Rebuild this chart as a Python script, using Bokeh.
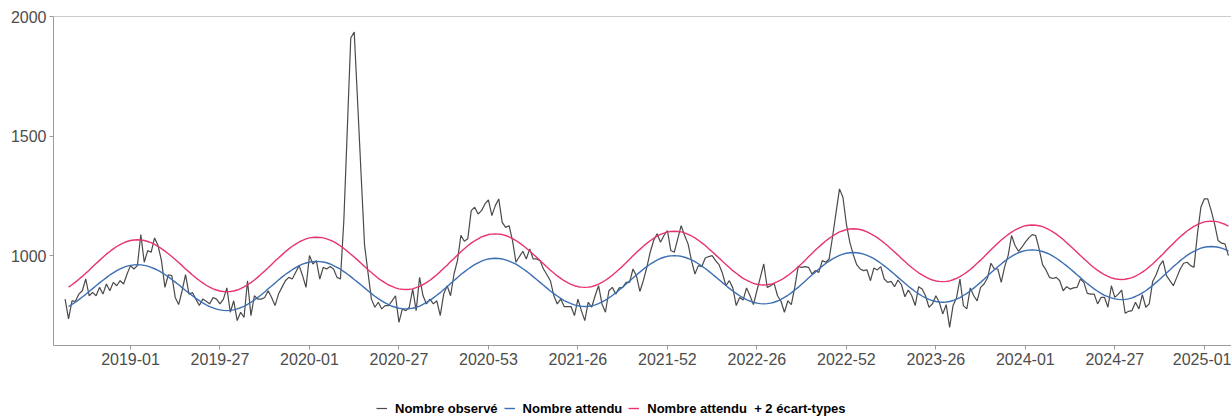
from bokeh.plotting import figure
from bokeh.layouts import column
from bokeh.models import Range1d, FixedTicker, Legend, LegendItem, Span
from bokeh.embed import file_html
from bokeh.resources import INLINE

# ---- data -------------------------------------------------------------
tick_labels = ["2019-01", "2019-27", "2020-01", "2020-27", "2020-53", "2021-26",
               "2021-52", "2022-26", "2022-52", "2023-26", "2024-01", "2024-27", "2025-01"]

series_names = ["Nombre observé", "Nombre attendu", "Nombre attendu  + 2 écart-types"]

observed_start = -19   # week index relative to 2019-01
observed = [
    818, 735, 811, 809, 839, 853, 902, 832, 846, 832, 867, 839, 881, 853, 888, 874, 895, 881, 923, 958,
    944, 958, 1088, 972, 1021, 1014, 1074, 1042, 979, 867, 920, 916, 825, 795, 853, 920, 839, 846, 818, 791,
    818, 809, 798, 825, 818, 798, 818, 865, 763, 811, 728, 763, 742, 895, 749, 832,
    818, 818, 825, 853, 825, 791, 839, 867, 895, 909, 902, 930, 958, 916, 867, 1000, 965, 979, 902, 951,
    944, 954, 944, 909, 902, 1150, 1530, 1910, 1935, 1640, 1340, 1045, 930, 818, 784, 805, 777, 791, 791, 811,
    832, 721, 777, 770, 784, 860, 770, 909, 832, 798, 818, 798, 811, 749, 839, 874,
    832, 923, 979, 1085, 1060, 1070, 1188, 1202, 1174, 1188, 1216, 1233, 1167, 1209, 1237, 1139, 1118, 1125, 1063, 972,
    996, 1018, 986, 1028, 986, 986, 979, 944, 920, 895, 832, 798, 818, 787, 787, 787, 749, 818, 770, 728,
    805, 784, 832, 874, 798, 763, 853, 867, 839, 865, 867, 888, 888, 944, 916, 850, 895,
    950, 1014, 1063, 1091, 1056, 1084, 1105, 1021, 1014, 1070, 1125, 1084, 1049, 979, 923, 958, 954, 990, 996, 1000,
    979, 962, 926, 874, 895, 865, 791, 825, 814, 865, 832, 795, 853, 909, 965, 867, 874, 884, 832, 809,
    763, 811, 795, 867, 954, 951, 954, 951, 923, 937, 930, 979, 972, 986, 1080, 1180,
    1279, 1244, 1132, 1056, 1004, 962, 944, 937, 940, 895, 948, 940, 954, 902, 888, 892, 870, 898, 878, 828,
    856, 832, 791, 870, 860, 832, 784, 798, 832, 805, 756, 795, 700, 791, 823, 902, 791, 777, 865, 832,
    811, 867, 881, 906, 968, 944, 944, 888, 954, 1000, 1084, 1042, 1018, 1035, 1056, 1074, 1088,
    1084, 1028, 962, 940, 909, 904, 909, 895, 853, 870, 860, 865, 867, 902, 888, 842, 839, 839, 798, 825,
    825, 784, 874, 825, 839, 856, 759, 767, 770, 805, 777, 837, 784, 798, 892, 920, 958, 979, 916, 895,
    874, 909, 944, 968, 972, 958, 951, 1091, 1202, 1237, 1237, 1188, 1132, 1063, 1052, 1049, 1000,
]

expected_start = -18
expected = [
    787, 796, 805, 816, 827, 838, 850, 862, 874, 886, 897, 908, 919, 928, 937, 944, 951, 956, 959, 961, 962,
    961, 959, 956, 951, 945, 938, 930, 921, 911, 900, 889, 878, 866, 854, 843, 832, 821, 812, 802, 794, 787, 781, 776, 773, 771, 770,
    771, 773, 777, 782, 788, 796, 805, 815, 825, 836, 848, 861, 873, 885, 898, 910, 921, 931, 941, 950, 958, 964, 969, 973, 975, 976,
    975, 973, 970, 965, 958, 951, 943, 933, 923, 912, 900, 889, 877, 865, 853, 841, 830, 820, 811, 802, 795, 788, 784, 780, 778, 777,
    778, 780, 784, 789, 796, 804, 813, 823, 834, 845, 858, 870, 883, 896, 908, 921, 932, 943, 953, 962, 970, 977, 982, 986, 988, 989,
    988, 986, 982, 977, 971, 964, 955, 945, 935, 924, 912, 900, 888, 876, 864, 852, 841, 831, 821, 812, 805, 799, 794, 790, 788, 787,
    788, 790, 794, 799, 806, 814, 823, 833, 844, 856, 868, 881, 894, 906, 919, 931, 943, 954, 964, 973, 981, 988, 993, 997, 999, 1000,
    999, 997, 993, 988, 982, 975, 966, 956, 946, 935, 923, 911, 899, 887, 875, 863, 852, 842, 832, 823, 816, 810, 805, 801, 799, 798,
    799, 801, 805, 810, 817, 825, 834, 844, 856, 867, 880, 893, 906, 919, 931, 944, 956, 967, 977, 986, 994, 1001, 1006, 1010, 1012, 1013,
    1012, 1010, 1006, 1001, 995, 987, 978, 968, 957, 946, 934, 922, 909, 897, 884, 872, 861, 850, 840, 831, 823, 817, 812, 808, 806, 805,
    806, 808, 812, 818, 824, 833, 842, 852, 864, 876, 888, 901, 915, 928, 941, 953, 965, 977, 987, 997, 1005, 1012, 1017, 1021, 1023, 1024,
    1023, 1021, 1017, 1012, 1006, 998, 989, 979, 968, 957, 945, 933, 920, 908, 895, 883, 872, 861, 851, 842, 834, 828, 823, 819, 817, 816,
    817, 819, 823, 829, 836, 844, 853, 864, 875, 888, 900, 914, 927, 940, 954, 966, 979, 990, 1001, 1010, 1018, 1025, 1031, 1035, 1037, 1038,
    1037, 1035, 1031, 1026, 1019,
]

threshold = [
    868, 878, 889, 901, 913, 926, 939, 953, 967, 980, 993, 1006, 1017, 1028, 1038, 1046, 1053, 1059, 1063, 1065, 1066,
    1065, 1063, 1059, 1054, 1047, 1039, 1029, 1019, 1008, 996, 984, 971, 958, 944, 932, 919, 907, 896, 886, 876, 868, 861, 856, 852, 850, 849,
    850, 852, 856, 862, 869, 878, 887, 898, 910, 923, 936, 949, 963, 977, 990, 1003, 1016, 1028, 1039, 1048, 1057, 1064, 1070, 1074, 1076, 1077,
    1076, 1074, 1070, 1065, 1058, 1050, 1040, 1030, 1018, 1006, 994, 981, 968, 954, 941, 929, 917, 905, 895, 886, 877, 871, 865, 861, 859, 858,
    859, 861, 866, 871, 879, 887, 897, 908, 920, 933, 947, 960, 975, 988, 1002, 1016, 1029, 1041, 1052, 1062, 1070, 1078, 1083, 1088, 1090, 1091,
    1090, 1088, 1084, 1078, 1071, 1063, 1053, 1043, 1031, 1019, 1006, 993, 979, 966, 952, 939, 927, 915, 905, 895, 887, 880, 874, 870, 868, 867,
    868, 870, 875, 881, 888, 897, 907, 918, 930, 943, 956, 970, 985, 999, 1013, 1026, 1039, 1051, 1062, 1072, 1081, 1089, 1094, 1099, 1101, 1102,
    1101, 1099, 1095, 1089, 1082, 1074, 1064, 1053, 1042, 1029, 1016, 1003, 990, 976, 963, 950, 937, 926, 915, 905, 897, 890, 884, 880, 878, 877,
    878, 880, 885, 891, 898, 907, 917, 928, 940, 953, 966, 980, 995, 1009, 1023, 1036, 1049, 1061, 1072, 1082, 1091, 1099, 1104, 1109, 1111, 1112,
    1111, 1109, 1105, 1099, 1092, 1084, 1075, 1064, 1053, 1041, 1028, 1015, 1002, 988, 975, 962, 950, 939, 928, 919, 911, 904, 898, 894, 892, 891,
    892, 894, 899, 905, 912, 921, 931, 942, 954, 968, 981, 995, 1010, 1024, 1038, 1052, 1065, 1077, 1088, 1098, 1107, 1114, 1120, 1125, 1127, 1128,
    1127, 1125, 1121, 1115, 1108, 1099, 1090, 1079, 1067, 1054, 1041, 1028, 1014, 1000, 987, 974, 961, 949, 938, 929, 920, 913, 907, 903, 901, 900,
    901, 904, 908, 914, 922, 931, 941, 953, 965, 979, 993, 1007, 1022, 1037, 1051, 1065, 1079, 1091, 1103, 1113, 1122, 1130, 1136, 1141, 1143, 1144,
    1143, 1141, 1136, 1131, 1123,
]

obs_x = list(range(observed_start, observed_start + len(observed)))
exp_x = list(range(expected_start, expected_start + len(expected)))
thr_x = list(range(expected_start, expected_start + len(threshold)))
tick_pos = [26 * i for i in range(len(tick_labels))]

# ---- styles -----------------------------------------------------------
AX = "#9a9a9a"
LAB = "#4d4d4d"
FONT = "Liberation Sans"
colors = ["#4a4a4a", "#3d6fb4", "#e8346c"]
widths = [1.2, 1.4, 1.4]
series_x = [obs_x, exp_x, thr_x]
series_y = [observed, expected, threshold]

# ---- main figure --------------------------------------------------------
p = figure(width=1231, height=380, output_backend="svg", toolbar_location=None,
           x_range=Range1d(-22.37, 319.9), y_range=Range1d(624, 2000),
           min_border_left=53, min_border_right=0, min_border_top=16, min_border_bottom=35)
p.outline_line_color = None
p.xgrid.visible = False
p.ygrid.visible = False

for xs, ys, c, w in zip(series_x, series_y, colors, widths):
    p.line(xs, ys, line_color=c, line_width=w)

for ax in (p.xaxis[0], p.yaxis[0]):
    ax.axis_line_color = AX
    ax.major_tick_line_color = AX
    ax.major_tick_out = 4
    ax.major_tick_in = 0
    ax.minor_tick_line_color = None
    ax.major_label_text_color = LAB
    ax.major_label_text_font = FONT
    ax.major_label_text_font_size = "16px"
    ax.major_label_standoff = 3

p.xaxis.ticker = FixedTicker(ticks=tick_pos)
p.xaxis.major_label_overrides = {t: l for t, l in zip(tick_pos, tick_labels)}
p.yaxis.ticker = FixedTicker(ticks=[1000, 1500, 2000])

p.add_layout(Span(location=2000, dimension="width", line_color=AX, line_width=1))

# ---- legend strip (same series, drawn out of view; only the legend shows) ----
leg = figure(width=1231, height=38, output_backend="svg", toolbar_location=None,
             x_axis_type=None, y_axis_type=None, min_border=0,
             x_range=Range1d(0, 1), y_range=Range1d(0, 1))
leg.outline_line_color = None
leg.xgrid.visible = False
leg.ygrid.visible = False
items = []
for name, xs, ys, c, w in zip(series_names, series_x, series_y, colors, widths):
    r = leg.line(xs, ys, line_color=c, line_width=w)
    items.append(LegendItem(label=name, renderers=[r]))

legend = Legend(items=items, orientation="horizontal", location=(323, 1))
legend.label_text_font = FONT
legend.label_text_font_style = "bold"
legend.label_text_font_size = "13px"
legend.label_text_color = "black"
legend.glyph_width = 11
legend.glyph_height = 18
legend.label_standoff = 8
legend.spacing = 6
legend.padding = 0
legend.margin = 0
legend.border_line_color = None
legend.background_fill_alpha = 0
leg.add_layout(legend, "center")

layout = column(p, leg, spacing=0)
open("out.html", "w").write(file_html(layout, INLINE))
